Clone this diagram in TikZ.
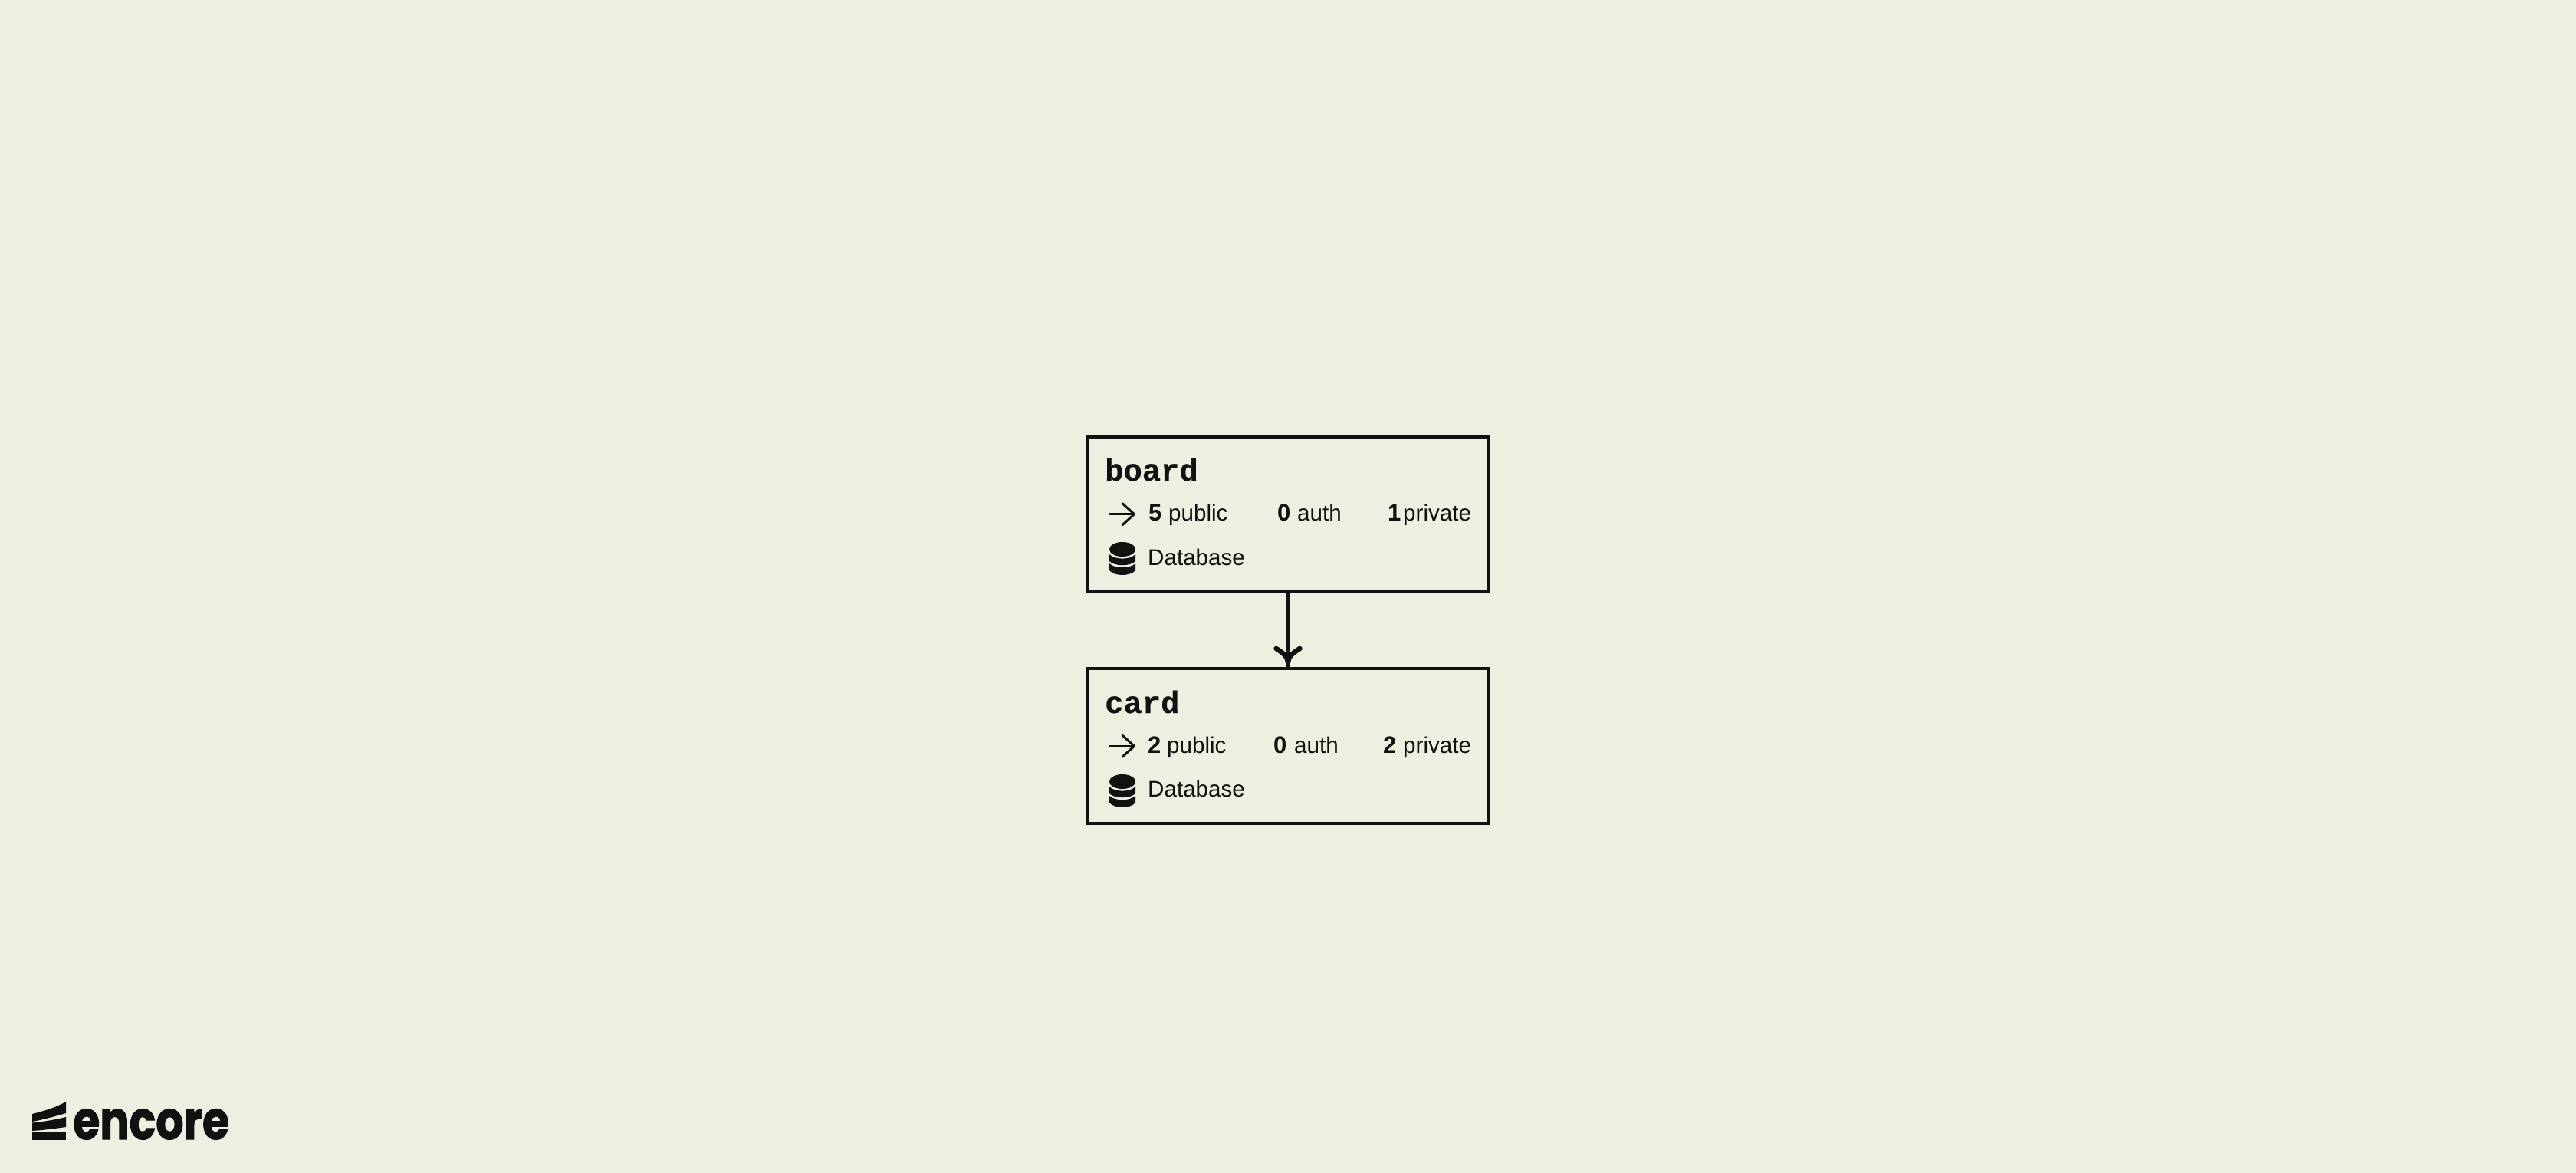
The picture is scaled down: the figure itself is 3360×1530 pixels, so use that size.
\documentclass[tikz,border=0pt]{standalone}
\usepackage{fontspec}
\setmainfont{Liberation Sans}
\newfontfamily\monof[FakeBold=0.5]{Liberation Mono}
\newfontfamily\logof[FakeBold=1.5]{Poppins}
\definecolor{paper}{HTML}{EEEFE1}
\definecolor{ink}{HTML}{111111}
\tikzset{
  svcbox/.style={draw=ink,line width=4.8pt,rectangle,minimum width=523.5pt,minimum height=202pt,outer sep=0pt,inner sep=0pt},
  title/.style={anchor=base west,inner sep=0pt,text=ink,font=\monof\bfseries\fontsize{40.5}{40.5}\selectfont},
  stat/.style={anchor=base west,inner sep=0pt,text=ink,font=\fontsize{29.6}{30}\selectfont},
  num/.style={anchor=base west,inner sep=0pt,text=ink,font=\bfseries\fontsize{31}{31}\selectfont},
  icoline/.style={draw=ink,line width=3pt,line cap=round,line join=round},
  link/.style={draw=ink,line width=5pt},
  barb/.style={draw=ink,line width=6.5pt,line cap=round},
}
\newcommand{\dbicon}[2]{%
  \fill[ink] (#1,#2+16.5) ellipse [x radius=17pt,y radius=9.5pt];
  \fill[ink] (#1-17,#2+23) .. controls (#1-10,#2+30.5) and (#1+10,#2+30.5) .. (#1+17,#2+23)
     -- (#1+17,#2+32) .. controls (#1+10,#2+39) and (#1-10,#2+39) .. (#1-17,#2+32) -- cycle;
  \fill[ink] (#1-17,#2+35) .. controls (#1-10,#2+42) and (#1+10,#2+42) .. (#1+17,#2+35)
     -- (#1+17,#2+44) .. controls (#1+10,#2+52) and (#1-10,#2+52) .. (#1-17,#2+44) -- cycle;
}
\newcommand{\arrowicon}[2]{%
  \draw[icoline] (#1,#2) -- (#1+32,#2);
  \draw[icoline] (#1+16.5,#2-14) -- (#1+32,#2) -- (#1+16.5,#2+14);
}
\begin{document}
\begin{tikzpicture}[x=1pt,y=-1pt]
\fill[paper] (0,0) rectangle (3360,1530);
\useasboundingbox (0,0) rectangle (3360,1530);

\node[svcbox] (board) at (1680,670.25) {};
\node[svcbox] (card) at (1680,973) {};
\draw[link] (board.south) -- (card.north);
\coordinate (tipl) at ([xshift=-15.5pt,yshift=26pt]card.north);
\coordinate (tipr) at ([xshift=15.5pt,yshift=26pt]card.north);
\draw[barb,line cap=butt] ([yshift=1pt]card.north) -- ([yshift=10pt]card.north);
\draw[barb] ([yshift=8pt]card.north) .. controls ([yshift=15pt]card.north) and ([xshift=-7pt,yshift=21pt]card.north) .. (tipl);
\draw[barb] ([yshift=8pt]card.north) .. controls ([yshift=15pt]card.north) and ([xshift=7pt,yshift=21pt]card.north) .. (tipr);

% board
\node[title] (boardt) at (1441,627) {board};
\arrowicon{1447.5}{670.7}
\node[num] (b5) at (1498,679) {5};
\node[stat] (b5l) at (1524,679) {public};
\node[num] (b0) at (1666,679) {0};
\node[stat] (b0l) at (1692,679) {auth};
\node[num] (b1) at (1810,679) {1};
\node[stat] (b1l) at (1830,679) {private};
\dbicon{1464}{700}
\node[stat] (bd) at (1497,737) {Database};

% card
\node[title] (cardt) at (1441,930) {card};
\arrowicon{1447.5}{973.2}
\node[num] (c2) at (1497,982) {2};
\node[stat] (c2l) at (1522,982) {public};
\node[num] (c0) at (1661,982) {0};
\node[stat] (c0l) at (1688,982) {auth};
\node[num] (c2b) at (1804,982) {2};
\node[stat] (c2bl) at (1830,982) {private};
\dbicon{1464}{1003}
\node[stat] (cd) at (1497,1039) {Database};

% logo
\fill[ink] (42,1453) .. controls (58,1449) and (74,1444) .. (86,1437) -- (86,1452) .. controls (72,1456) and (58,1460) .. (42,1463) -- cycle;
\fill[ink] (42,1464.5) .. controls (58,1463) and (74,1460) .. (86,1457) -- (86,1470) .. controls (72,1472) and (58,1474) .. (42,1475) -- cycle;
\fill[ink] (42,1476.5) -- (86,1476.5) -- (86,1486.5) -- (42,1486.5) -- cycle;
\node[anchor=base west,inner sep=0pt,text=ink,xscale=0.815,font=\logof\bfseries\fontsize{70}{70}\selectfont] (logo) at (95,1486) {encore};
\end{tikzpicture}
\end{document}
